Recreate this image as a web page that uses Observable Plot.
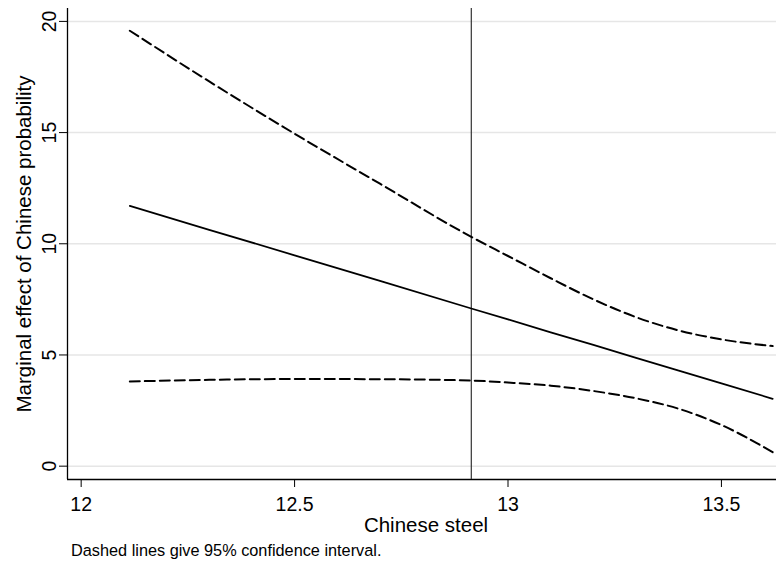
<!DOCTYPE html>
<html>
<head>
<meta charset="utf-8">
<script src="https://cdn.jsdelivr.net/npm/d3@7"></script>
<script src="https://cdn.jsdelivr.net/npm/@observablehq/plot@0.6"></script>
<style>
  html, body { margin: 0; padding: 0; background: #fff; }
  #chart svg { display: block; }
  #caption { font-family: "Liberation Sans", Arial, sans-serif; font-size: 16.3px; line-height: 18px; padding-left: 71px; color: #000; }
</style>
</head>
<body>
<div id="chart"></div>
<div id="caption">Dashed lines give 95% confidence interval.</div>
<script>
const xTicks = [12, 12.5, 13, 13.5];
const yTicks = [0, 5, 10, 15, 20];
const steel  = [12.114, 12.3, 12.5, 12.7, 12.914, 13.0, 13.1, 13.2, 13.3, 13.4, 13.5, 13.62];
const effect = [11.70, 10.63, 9.48, 8.33, 7.09, 6.60, 6.02, 5.45, 4.87, 4.30, 3.72, 3.03];
const upper  = [19.58, 17.3, 14.95, 12.7, 10.31, 9.45, 8.45, 7.5, 6.7, 6.1, 5.7, 5.40];
const lower  = [3.81, 3.88, 3.92, 3.91, 3.85, 3.76, 3.62, 3.38, 3.05, 2.58, 1.85, 0.63];
const cutoff = [12.914];
const xLabel = "Chinese steel";
const yLabel = "Marginal effect of Chinese probability";

const rows = steel.map((s, i) => ({steel: s, effect: effect[i], upper: upper[i], lower: lower[i]}));
const xDomain = [11.968, 13.629];
const yDomain = [-0.6, 20.58];

const chart = Plot.plot({
  width: 776,
  height: 541,
  marginLeft: 67,
  marginRight: 0,
  marginTop: 8,
  marginBottom: 62,
  x: {domain: xDomain},
  y: {domain: yDomain},
  style: {fontFamily: "'Liberation Sans', Arial, sans-serif", background: "#fff", color: "#000"},
  marks: [
    Plot.gridY(yTicks, {stroke: "#e6e6e6", strokeOpacity: 1, strokeWidth: 1.5}),
    Plot.axisX(xTicks, {tickSize: 8, tickPadding: 10, fontSize: 19.5, label: null, tickFormat: d => String(d)}),
    Plot.axisY(yTicks, {tickSize: 8, tickPadding: 4, tickRotate: -90, fontSize: 19.5, label: null, tickFormat: d => String(d)}),
    Plot.ruleX([xDomain[0]], {stroke: "#000", strokeWidth: 1.3}),
    Plot.ruleY([yDomain[0]], {stroke: "#000", strokeWidth: 1.3}),
    Plot.ruleX(cutoff, {stroke: "#333", strokeWidth: 1.2}),
    Plot.line(rows, {x: "steel", y: "upper", curve: "monotone-x", stroke: "#000", strokeWidth: 2, strokeDasharray: "10,5"}),
    Plot.line(rows, {x: "steel", y: "lower", curve: "monotone-x", stroke: "#000", strokeWidth: 2, strokeDasharray: "10,5"}),
    Plot.line(rows, {x: "steel", y: "effect", stroke: "#000", strokeWidth: 1.8}),
    Plot.text([xLabel], {frameAnchor: "bottom", dx: 4, dy: 38, lineAnchor: "top", fontSize: 20.5, fill: "#000"}),
    Plot.text([yLabel], {frameAnchor: "left", textAnchor: "middle", rotate: -90, dx: -50.6, lineAnchor: "top", fontSize: 20.5, fill: "#000"})
  ]
});
document.getElementById("chart").appendChild(chart);
</script>
</body>
</html>
